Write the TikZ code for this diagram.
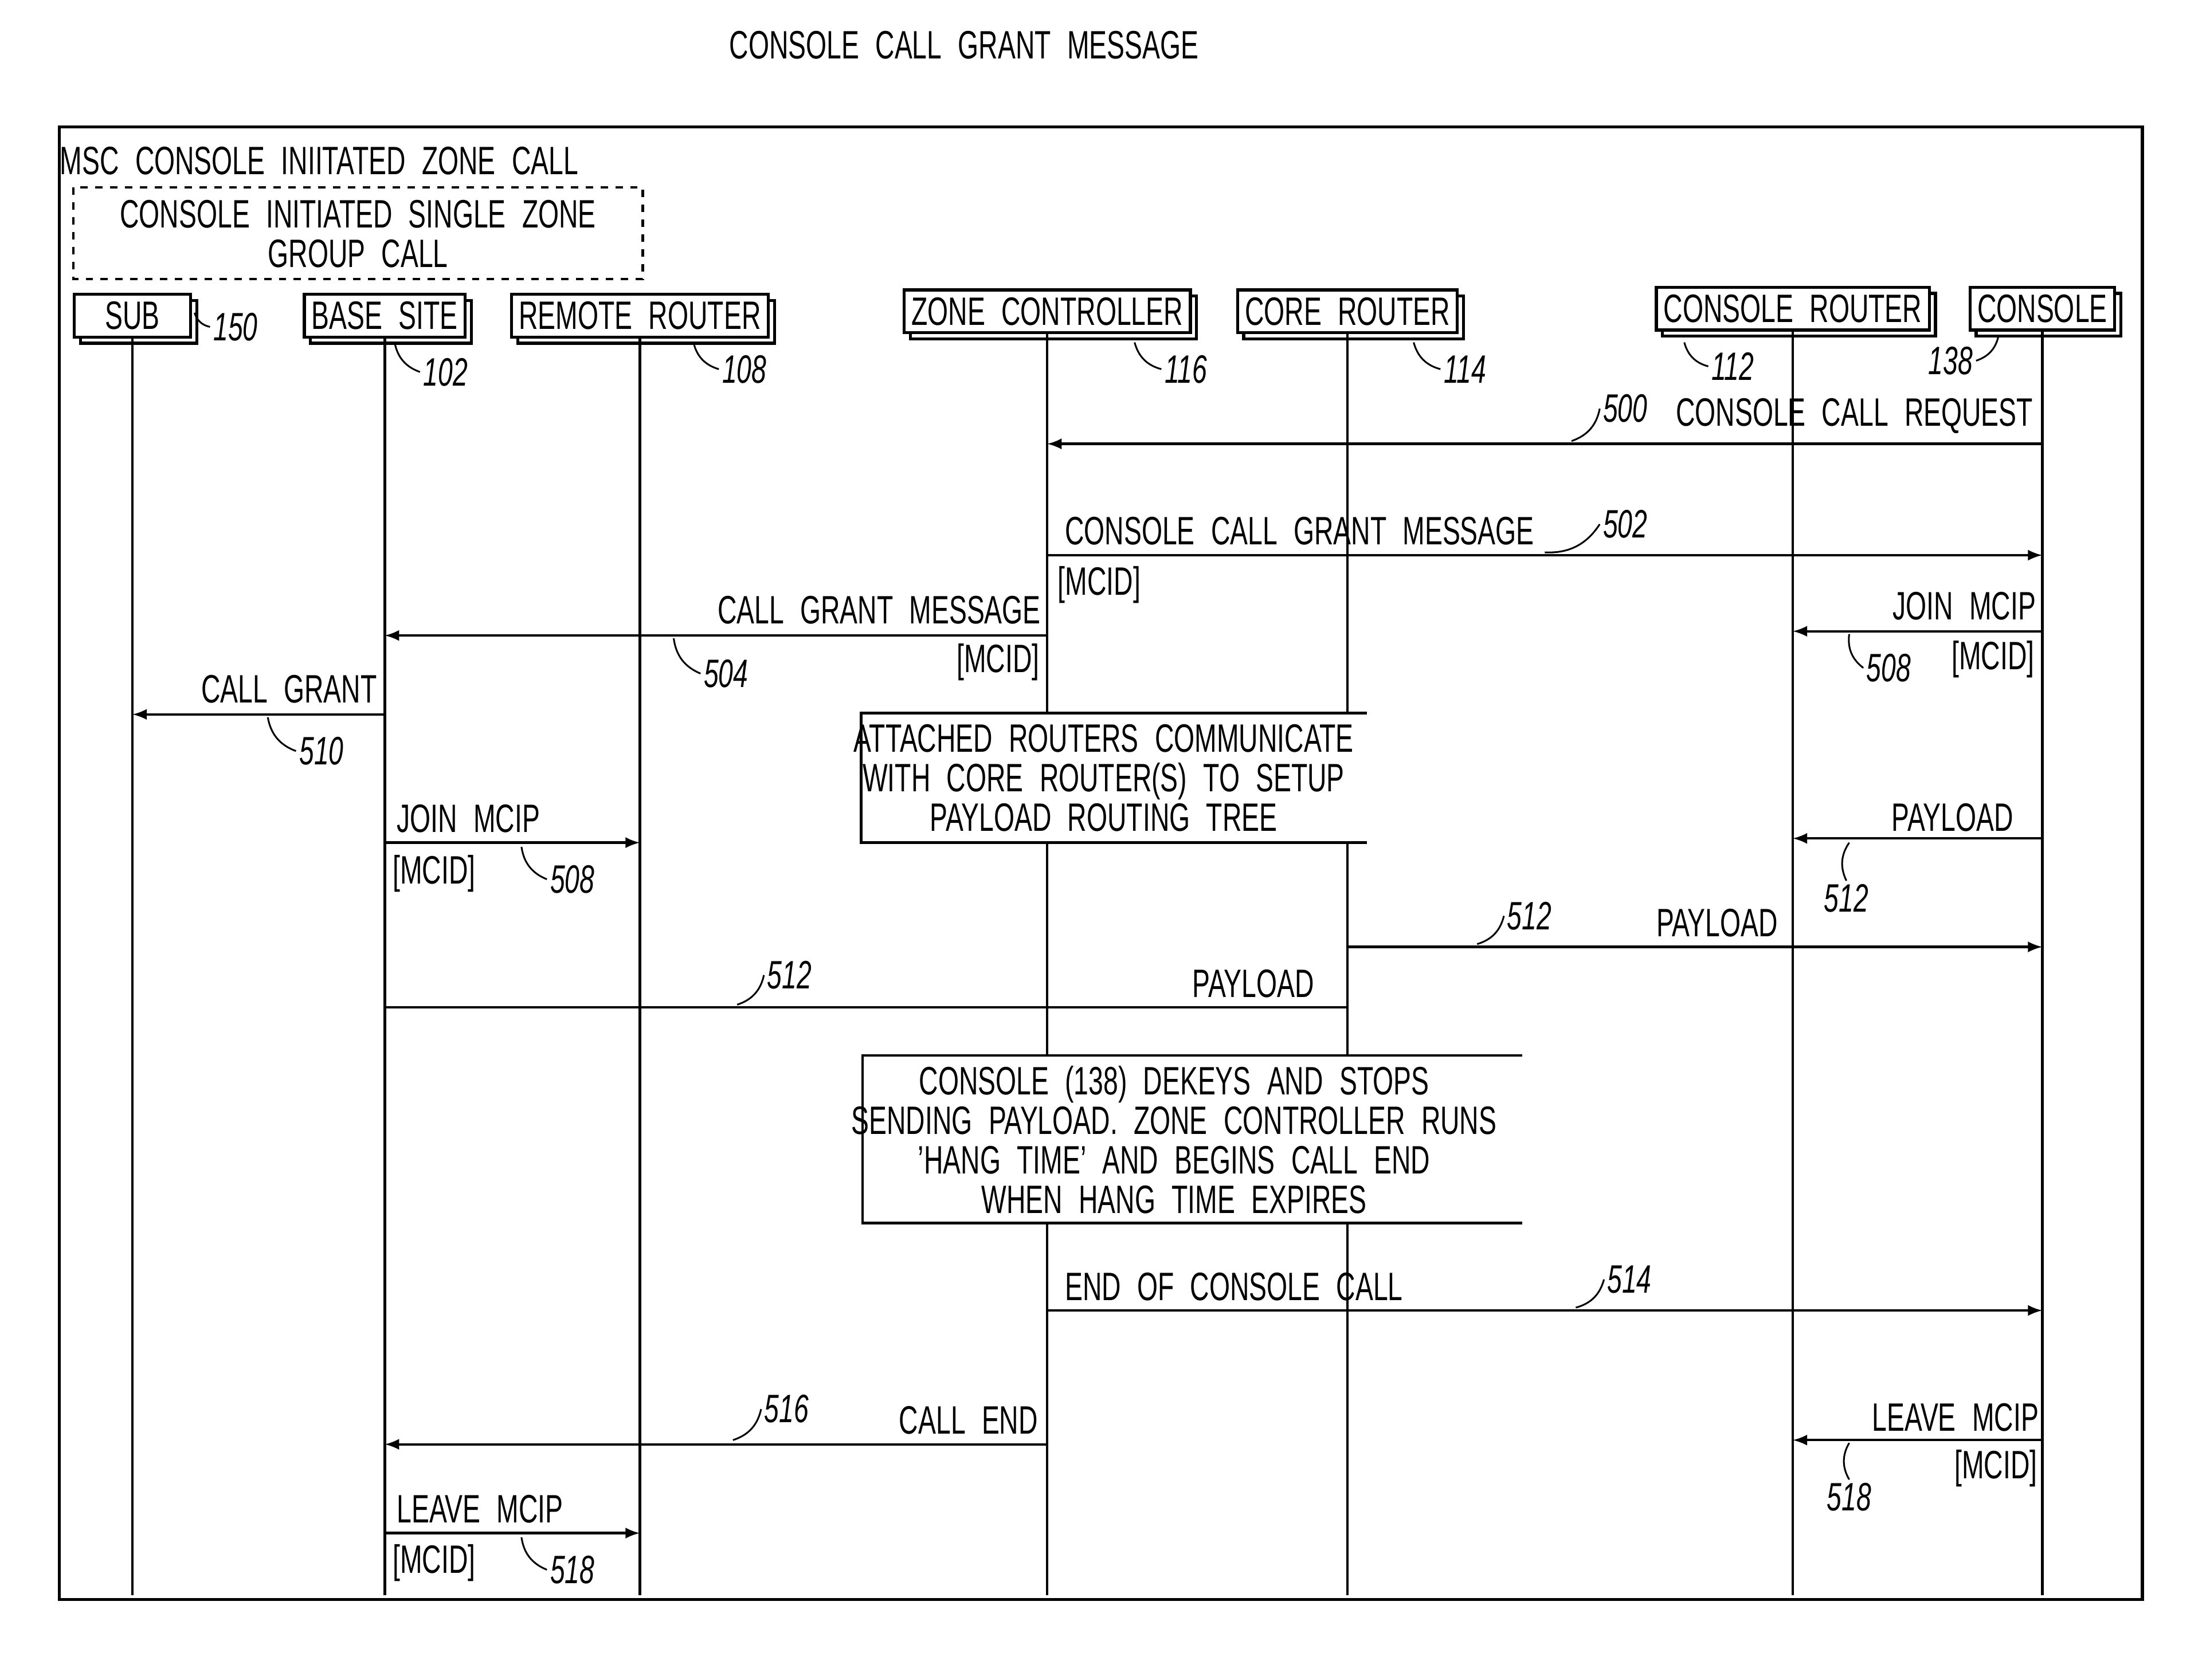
\documentclass[tikz,border=0pt]{standalone}
\usepackage{fontspec}
\setmainfont{Liberation Sans}[FakeStretch=0.67,WordSpace=2.2]
\usetikzlibrary{shadows}
\tikzset{
  hdr/.style={draw,fill=white,line width=1.2pt,inner sep=3pt,minimum height=0.6cm,
    copy shadow={shadow xshift=2.5pt,shadow yshift=-2.5pt}},
  msg/.style={line width=1pt,-latex},
  txt/.style={inner sep=1pt},
  note/.style={inner sep=1pt,align=center,font=\fontsize{16}{16}\selectfont},
  refn/.style={font=\fontsize{16}{19}\selectfont\itshape,inner sep=1pt},
  ld/.style={line width=0.7pt},
}
\begin{document}
\begin{tikzpicture}[x=0.02cm,y=-0.02cm,font=\fontsize{16}{19}\selectfont,line width=1pt]
\useasboundingbox (0,0) rectangle (1568,1192);
\node[txt] at (684,32) {CONSOLE CALL GRANT MESSAGE};
\draw[line width=1.2pt] (42,90) rectangle (1520,1135);
\node[txt,anchor=west] at (40,114) {MSC CONSOLE INIITATED ZONE CALL};
\draw[dashed,line width=1pt] (52,133) rectangle (456,198);
\node[note] at (254,166) {CONSOLE INITIATED SINGLE ZONE\\GROUP CALL};
% header boxes
\node[hdr,minimum width=1.65cm] (sub) at (94,224) {SUB};
\node[hdr] (bs) at (273,224) {BASE SITE};
\node[hdr] (rr) at (454,224) {REMOTE ROUTER};
\node[hdr] (zc) at (743,221) {ZONE CONTROLLER};
\node[hdr] (cr) at (956,221) {CORE ROUTER};
\node[hdr] (crt) at (1272,219) {CONSOLE ROUTER};
\node[hdr] (con) at (1449,219) {CONSOLE};
% lifelines
\foreach \n in {sub,bs,rr,zc,cr,crt,con}
  \draw (\n.south) -- (\n |- 0,1132);
% reference numerals
\draw[ld] (138,222) to[bend right] (149,232) node[refn,anchor=west] {150};
\draw[ld] (280,243) to[bend right] (298,264) node[refn,anchor=west] {102};
\draw[ld] (492,243) to[bend right] (510,262) node[refn,anchor=west] {108};
\draw[ld] (805,243) to[bend right] (824,262) node[refn,anchor=west] {116};
\draw[ld] (1003,243) to[bend right] (1022,262) node[refn,anchor=west] {114};
\draw[ld] (1195,243) to[bend right] (1212,260) node[refn,anchor=west] {112};
\draw[ld] (1418,238) to[bend left] (1402,256) node[refn,anchor=east] {138};
% 500
\draw[msg] (con |- 0,315) -- (zc |- 0,315);
\node[txt,anchor=east] at (1445,295) {CONSOLE CALL REQUEST};
\draw[ld] (1115,313) to[bend right] (1135,290) node[refn,anchor=west] {500};
% 502
\draw[msg] (zc |- 0,394) -- (con |- 0,394);
\node[txt,anchor=west] at (753,377) {CONSOLE CALL GRANT MESSAGE};
\node[txt,anchor=west] at (748,415) {[MCID]};
\draw[ld] (1096,392) to[bend right] (1135,372) node[refn,anchor=west] {502};
% 504
\draw[msg] (zc |- 0,451) -- (bs |- 0,451);
\node[txt,anchor=east] at (741,433) {CALL GRANT MESSAGE};
\node[txt,anchor=east] at (740,470) {[MCID]};
\draw[ld] (478,453) to[bend right] (497,478) node[refn,anchor=west] {504};
% 508 console side
\draw[msg] (con |- 0,448) -- (crt |- 0,448);
\node[txt,anchor=east] at (1447,430) {JOIN MCIP};
\node[txt,anchor=east] at (1446,468) {[MCID]};
\draw[ld] (1312,450) to[bend right] (1322,474) node[refn,anchor=west] {508};
% 510
\draw[msg] (bs |- 0,507) -- (sub |- 0,507);
\node[txt,anchor=east] at (270,489) {CALL GRANT};
\draw[ld] (190,509) to[bend right] (210,533) node[refn,anchor=west] {510};
% routing note
\fill[white] (611,506) rectangle (970,598);
\draw (970,506) -- (611,506) -- (611,598) -- (970,598);
\node[note] at (783,552) {ATTACHED ROUTERS COMMUNICATE\\WITH CORE ROUTER(S) TO SETUP\\PAYLOAD ROUTING TREE};
% 508 base side
\draw[msg] (bs |- 0,598) -- (rr |- 0,598);
\node[txt,anchor=west] at (279,581) {JOIN MCIP};
\node[txt,anchor=west] at (276,620) {[MCID]};
\draw[ld] (370,601) to[bend right] (388,624) node[refn,anchor=west] {508};
% 512
\draw[msg] (con |- 0,595) -- (crt |- 0,595);
\node[txt,anchor=east] at (1431,580) {PAYLOAD};
\draw[ld] (1312,598) to[bend right] (1310,625) node[refn,anchor=north] {512};
\draw[msg] (cr |- 0,672) -- (con |- 0,672);
\node[txt,anchor=east] at (1264,655) {PAYLOAD};
\draw[ld] (1048,670) to[bend right] (1067,650) node[refn,anchor=west] {512};
\draw (bs |- 0,715) -- (cr |- 0,715);
\node[txt,anchor=east] at (935,698) {PAYLOAD};
\draw[ld] (523,713) to[bend right] (542,692) node[refn,anchor=west] {512};
% dekey note
\fill[white] (612,749) rectangle (1080,868);
\draw (1080,749) -- (612,749) -- (612,868) -- (1080,868);
\node[note] at (833,809) {CONSOLE (138) DEKEYS AND STOPS\\SENDING PAYLOAD. ZONE CONTROLLER RUNS\\'HANG TIME' AND BEGINS CALL END\\WHEN HANG TIME EXPIRES};
% 514
\draw[msg] (zc |- 0,930) -- (con |- 0,930);
\node[txt,anchor=west] at (753,913) {END OF CONSOLE CALL};
\draw[ld] (1118,928) to[bend right] (1138,908) node[refn,anchor=west] {514};
% 516
\draw[msg] (zc |- 0,1025) -- (bs |- 0,1025);
\node[txt,anchor=east] at (739,1008) {CALL END};
\draw[ld] (520,1022) to[bend right] (540,1000) node[refn,anchor=west] {516};
% 518
\draw[msg] (con |- 0,1022) -- (crt |- 0,1022);
\node[txt,anchor=east] at (1449,1006) {LEAVE MCIP};
\node[txt,anchor=east] at (1448,1042) {[MCID]};
\draw[ld] (1312,1024) to[bend right] (1312,1050) node[refn,anchor=north] {518};
\draw[msg] (bs |- 0,1088) -- (rr |- 0,1088);
\node[txt,anchor=west] at (279,1071) {LEAVE MCIP};
\node[txt,anchor=west] at (276,1109) {[MCID]};
\draw[ld] (370,1091) to[bend right] (388,1114) node[refn,anchor=west] {518};
\end{tikzpicture}
\end{document}
